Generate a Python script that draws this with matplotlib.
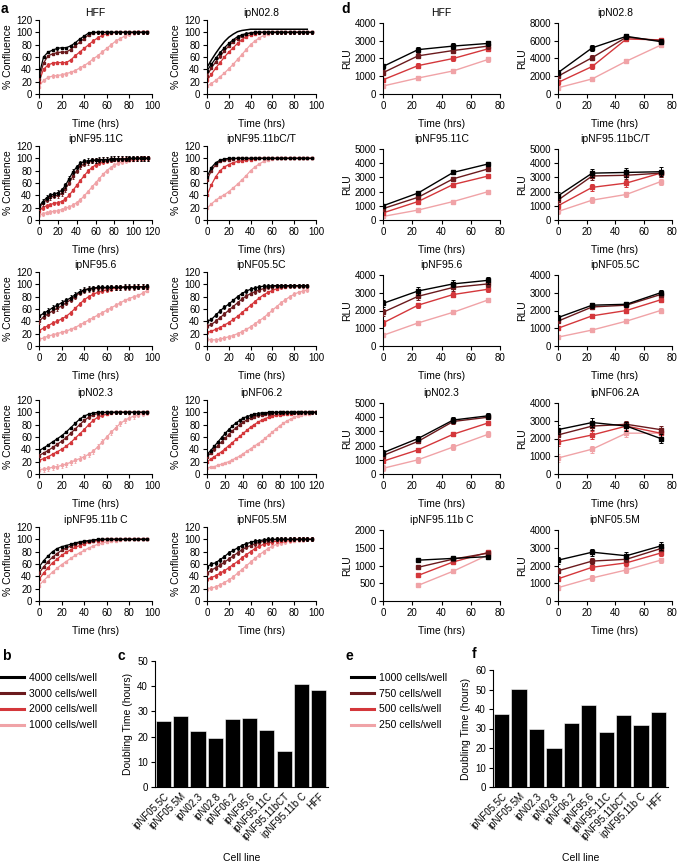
import numpy as np
import matplotlib.pyplot as plt
from matplotlib.lines import Line2D

plt.rcParams['font.family'] = ['Liberation Sans', 'DejaVu Sans']
plt.rcParams['font.size'] = 7
plt.rcParams['axes.linewidth'] = 0.8
plt.rcParams['xtick.major.size'] = 3
plt.rcParams['ytick.major.size'] = 3
plt.rcParams['xtick.major.width'] = 0.8
plt.rcParams['ytick.major.width'] = 0.8

COLORS = ['#000000', '#6b1a1d', '#d4373b', '#f0a3a7']

# ---------------- panel a: % confluence, sampled every 4 h ----------------
CONF_HFF = [
    [30, 60, 68, 71, 74, 75, 75, 78, 83, 89, 94, 99, 100, 100, 100, 100, 100, 100, 100, 100, 100, 100, 100, 100, 100],
    [25, 50, 62, 65, 67, 68, 68, 72, 78, 84, 90, 96, 99, 100, 100, 100, 100, 100, 100, 100, 100, 100, 100, 100, 100],
    [20, 40, 47, 50, 51, 51, 51, 55, 62, 68, 74, 80, 86, 91, 95, 98, 99, 100, 100, 100, 100, 100, 100, 100, 100],
    [12, 22, 27, 29, 30, 31, 33, 35, 38, 42, 46, 51, 57, 62, 68, 74, 80, 86, 90, 94, 97, 99, 100, 100, 100],
]
FIT_N028 = [43, 55, 66, 76, 85, 92, 97, 101, 103, 104, 105, 105, 105, 105, 105, 105, 105, 105, 105, 105, 105, 105, 105, 105]
CONF_N028 = [
    [38, 48, 58, 67, 75, 82, 88, 93, 96, 98, 99, 100, 100, 100, 100, 100, 100, 100, 100, 100, 100, 100, 100, 100, 100],
    [30, 42, 52, 61, 70, 78, 85, 90, 94, 97, 99, 100, 100, 100, 100, 100, 100, 100, 100, 100, 100, 100, 100, 100, 100],
    [22, 32, 42, 51, 60, 68, 75, 82, 88, 93, 96, 98, 99, 100, 100, 100, 100, 100, 100, 100, 100, 100, 100, 100, 100],
    [13, 17, 22, 28, 34, 41, 48, 56, 64, 72, 80, 86, 91, 95, 98, 100, 100, 100, 100, 100, 100, 100, 100, 100, 100],
]
CONF_9511C = [
    [22, 30, 36, 40, 42, 44, 48, 56, 67, 78, 86, 92, 95, 96, 97, 97, 98, 98, 98, 99, 99, 99, 99, 99, 100, 100, 100, 100, 100, 100],
    [20, 27, 33, 37, 39, 40, 43, 50, 60, 71, 80, 87, 91, 94, 96, 97, 97, 98, 98, 98, 99, 99, 99, 99, 99, 100, 100, 100, 100, 100],
    [15, 20, 23, 25, 27, 28, 30, 34, 40, 48, 56, 64, 72, 79, 85, 89, 92, 94, 96, 97, 98, 98, 99, 99, 99, 99, 100, 100, 100, 100],
    [8, 10, 12, 13, 14, 15, 17, 19, 21, 24, 28, 33, 39, 46, 53, 60, 67, 74, 80, 85, 89, 92, 94, 96, 97, 98, 99, 99, 100, 100],
]
CONF_9511BCT = [
    [70, 85, 93, 97, 99, 100, 100, 100, 100, 100, 100, 100, 100, 100, 100, 100, 100, 100, 100, 100, 100, 100, 100, 100, 100],
    [65, 80, 90, 95, 97, 98, 99, 100, 100, 100, 100, 100, 100, 100, 100, 100, 100, 100, 100, 100, 100, 100, 100, 100, 100],
    [40, 57, 70, 80, 86, 90, 93, 95, 96, 97, 98, 99, 100, 100, 100, 100, 100, 100, 100, 100, 100, 100, 100, 100, 100],
    [19, 26, 32, 37, 41, 46, 52, 58, 65, 72, 80, 86, 91, 95, 98, 99, 100, 100, 100, 100, 100, 100, 100, 100, 100],
]
CONF_956 = [
    [48, 53, 57, 62, 66, 70, 74, 78, 83, 88, 91, 93, 94, 95, 95, 95, 95, 95, 95, 96, 96, 96, 96, 96, 97],
    [40, 47, 52, 57, 61, 65, 70, 75, 80, 86, 90, 92, 93, 94, 94, 94, 95, 95, 95, 95, 95, 95, 96, 96, 96],
    [25, 29, 33, 37, 40, 44, 48, 54, 61, 68, 75, 80, 84, 87, 89, 91, 93, 94, 95, 95, 95, 96, 96, 96, 96],
    [11, 13, 16, 18, 20, 22, 24, 27, 30, 34, 38, 42, 46, 50, 54, 58, 62, 66, 70, 74, 77, 80, 82, 86, 90],
]
CONF_055C = [
    [40, 43, 50, 57, 63, 68, 74, 80, 85, 89, 92, 94, 96, 97, 97, 98, 98, 98, 98, 98, 98, 98, 98, 98],
    [32, 35, 40, 46, 52, 58, 64, 70, 76, 81, 85, 88, 91, 93, 95, 96, 97, 97, 97, 97, 97, 97, 97, 97],
    [22, 24, 27, 30, 34, 38, 43, 48, 54, 60, 66, 72, 78, 83, 87, 90, 93, 95, 96, 97, 97, 97, 97, 97],
    [11, 10, 10, 11, 13, 15, 17, 20, 23, 27, 31, 36, 41, 46, 52, 58, 64, 70, 75, 80, 84, 87, 89, 91],
]
CONF_N023 = [
    [38, 42, 47, 52, 57, 62, 68, 75, 82, 89, 94, 97, 99, 100, 100, 100, 100, 100, 100, 100, 100, 100, 100, 100, 100],
    [30, 34, 38, 43, 48, 53, 59, 66, 73, 80, 87, 92, 96, 98, 99, 100, 100, 100, 100, 100, 100, 100, 100, 100, 100],
    [22, 25, 28, 32, 36, 40, 45, 51, 58, 65, 72, 80, 87, 92, 95, 97, 99, 100, 100, 100, 100, 100, 100, 100, 100],
    [7, 8, 9, 11, 12, 14, 16, 19, 22, 25, 28, 32, 37, 44, 52, 60, 68, 75, 82, 87, 91, 94, 96, 98, 99],
]
CONF_062 = [
    [32, 38, 45, 52, 59, 66, 72, 78, 83, 87, 91, 93, 95, 97, 98, 99, 99, 100, 100, 100, 100, 100, 100, 100, 100, 100, 100, 100, 100, 100, 100],
    [28, 34, 40, 46, 52, 58, 64, 70, 75, 80, 84, 88, 91, 93, 95, 96, 97, 98, 99, 99, 100, 100, 100, 100, 100, 100, 100, 100, 100, 100, 100],
    [20, 24, 28, 32, 36, 41, 46, 51, 56, 61, 66, 71, 76, 80, 84, 87, 90, 92, 94, 95, 96, 97, 98, 98, 99, 99, 100, 100, 100, 100, 100],
    [10, 11, 12, 14, 16, 18, 20, 23, 26, 29, 33, 37, 41, 45, 49, 53, 58, 63, 68, 73, 78, 82, 86, 89, 92, 94, 96, 97, 98, 99, 100],
]
CONF_9511BC = [
    [55, 65, 73, 80, 85, 88, 90, 92, 94, 96, 97, 98, 99, 100, 100, 100, 100, 100, 100, 100, 100, 100, 100, 100, 100],
    [45, 55, 64, 71, 77, 82, 86, 89, 92, 94, 96, 97, 98, 99, 100, 100, 100, 100, 100, 100, 100, 100, 100, 100, 100],
    [35, 45, 54, 62, 68, 74, 79, 83, 87, 90, 93, 95, 97, 98, 99, 100, 100, 100, 100, 100, 100, 100, 100, 100, 100],
    [25, 33, 40, 47, 53, 59, 64, 69, 74, 78, 82, 86, 89, 92, 94, 96, 97, 98, 99, 100, 100, 100, 100, 100, 100],
]
CONF_055M = [
    [55, 60, 62, 67, 72, 78, 82, 86, 90, 93, 95, 97, 98, 99, 100, 100, 100, 100, 100, 100, 100, 100, 100, 100, 100],
    [45, 50, 54, 58, 63, 68, 73, 78, 83, 87, 90, 93, 95, 97, 98, 99, 100, 100, 100, 100, 100, 100, 100, 100, 100],
    [35, 38, 41, 45, 49, 54, 59, 64, 70, 75, 80, 85, 89, 92, 94, 96, 97, 98, 99, 99, 100, 100, 100, 100, 100],
    [20, 21, 23, 26, 30, 34, 39, 45, 51, 57, 63, 69, 75, 80, 85, 89, 92, 94, 96, 97, 98, 99, 99, 100, 100],
]
# (title, data, x max of axis, error per series)
CONF_PANELS = [
    ('HFF', CONF_HFF, 100, [2, 2, 2.5, 3]),
    ('ipN02.8', CONF_N028, 100, [2, 2, 2, 2]),
    ('ipNF95.11C', CONF_9511C, 120, [4, 4, 3, 3]),
    ('ipNF95.11bC/T', CONF_9511BCT, 100, [1.5, 1.5, 1.5, 1.5]),
    ('ipNF95.6', CONF_956, 100, [4, 4, 3, 3]),
    ('ipNF05.5C', CONF_055C, 100, [3, 3, 2, 3]),
    ('ipN02.3', CONF_N023, 100, [2, 2, 2, 4]),
    ('ipNF06.2', CONF_062, 120, [2, 2, 1.5, 1.5]),
    ('ipNF95.11b C', CONF_9511BC, 100, [1, 1, 1, 1]),
    ('ipNF05.5M', CONF_055M, 100, [3, 3, 3, 3]),
]

# ---------------- panel d: RLU at 0/24/48/72 h ----------------
RLU_T = [0, 24, 48, 72]
RLU_HFF = [[1550, 2500, 2700, 2850], [1200, 2150, 2450, 2700], [800, 1600, 2000, 2550], [450, 900, 1300, 1950]]
RLU_N028 = [[2400, 5200, 6500, 5900], [2000, 4100, 6400, 6000], [1300, 3100, 6200, 6100], [700, 1700, 3700, 5500]]
RLU_9511C = [[1000, 1900, 3350, 3950], [800, 1600, 2900, 3600], [500, 1300, 2500, 3100], [250, 700, 1300, 2000]]
RLU_9511BCT = [[1700, 3300, 3350, 3400], [1400, 3100, 3150, 3300], [1000, 2300, 2600, 3300], [600, 1400, 1800, 2700]]
RLU_956 = [[2400, 3100, 3500, 3700], [1900, 2800, 3300, 3500], [1300, 2300, 2900, 3200], [600, 1300, 1900, 2600]]
RLU_055C = [[1600, 2300, 2350, 3000], [1400, 2200, 2300, 2900], [1000, 1700, 2000, 2600], [500, 900, 1400, 2000]]
RLU_N023 = [[1500, 2500, 3800, 4100], [1300, 2300, 3700, 4000], [900, 1700, 2800, 3600], [400, 1000, 1900, 2800]]
RLU_062A = [[2500, 2900, 2700, 2000], [2200, 2700, 2800, 2500], [1800, 2200, 2700, 2300], [900, 1400, 2300, 2300]]
RLU_9511BC_T = [24, 48, 72]
RLU_9511BC = [[1150, 1200, 1250], [950, 1180, 1350], [720, 1100, 1370], [440, 840, 1300]]
RLU_055M = [[2300, 2750, 2550, 3100], [1700, 2250, 2350, 2950], [1250, 1900, 2150, 2700], [750, 1300, 1750, 2300]]
# (title, times, data, y max, y step, error per series)
RLU_PANELS = [
    ('HFF', RLU_T, RLU_HFF, 4000, 1000, [150, 150, 120, 120]),
    ('ipN02.8', RLU_T, RLU_N028, 8000, 2000, [300, 250, 250, 200]),
    ('ipNF95.11C', RLU_T, RLU_9511C, 5000, 1000, [80, 80, 80, 80]),
    ('ipNF95.11bC/T', RLU_T, RLU_9511BCT, 5000, 1000, [300, 250, 250, 200]),
    ('ipNF95.6', RLU_T, RLU_956, 4000, 1000, [200, 200, 150, 120]),
    ('ipNF05.5C', RLU_T, RLU_055C, 4000, 1000, [150, 120, 120, 120]),
    ('ipN02.3', RLU_T, RLU_N023, 5000, 1000, [200, 150, 150, 200]),
    ('ipNF06.2A', RLU_T, RLU_062A, 4000, 1000, [250, 200, 200, 200]),
    ('ipNF95.11b C', RLU_9511BC_T, RLU_9511BC, 2000, 500, [20, 20, 20, 20]),
    ('ipNF05.5M', RLU_T, RLU_055M, 4000, 1000, [200, 150, 150, 150]),
]

# ---------------- panels c / f: doubling times ----------------
CELL_LINES = ['ipNF05.5C', 'ipNF05.5M', 'ipN02.3', 'ipN02.8', 'ipNF06.2', 'ipNF95.6',
              'ipNF95.11C', 'ipNF95.11bCT', 'ipNF95.11b C', 'HFF']
DOUBLING_CONF = [26.0, 28.0, 22.3, 19.5, 27.0, 27.2, 22.8, 14.3, 40.8, 38.4]
DOUBLING_RLU = [37.6, 50.2, 29.7, 19.8, 33.0, 42.3, 28.4, 36.7, 32.0, 38.6]

LEGEND_B = ['4000 cells/well', '3000 cells/well', '2000 cells/well', '1000 cells/well']
LEGEND_E = ['1000 cells/well', '750 cells/well', '500 cells/well', '250 cells/well']

W, H = 685, 868
fig = plt.figure(figsize=(W / 100, H / 100), dpi=100)


def box(x0, y0, x1, y1):
    # pixel box (top-left origin) -> figure fraction
    return [x0 / W, 1 - y1 / H, (x1 - x0) / W, (y1 - y0) / H]


def tidy(ax):
    ax.spines['top'].set_visible(False)
    ax.spines['right'].set_visible(False)
    ax.tick_params(labelsize=7, pad=2)


ROW_TOPS = [20, 146, 272, 400, 527]
ROW_H = 74
A_COLS = [(39, 152), (207, 316)]
D_COLS = [(383, 500), (558, 672)]

for i, (title, data, xmax, errs) in enumerate(CONF_PANELS):
    r, c = divmod(i, 2)
    x0, x1 = A_COLS[c]
    ax = fig.add_axes(box(x0, ROW_TOPS[r], x1, ROW_TOPS[r] + ROW_H))
    tidy(ax)
    if title == 'ipN02.8':
        ax.plot(np.arange(len(FIT_N028)) * 4, FIT_N028, color='black', lw=1.1, zorder=5)
    for s, (col, err) in enumerate(zip(COLORS, errs)):
        vals = data[s]
        t = np.arange(len(vals)) * 4
        ax.errorbar(t, vals, yerr=err, color=col, marker='s', ms=1.6, lw=0.9,
                    elinewidth=0.6, capsize=1.0, capthick=0.6, zorder=4 - s)
    ax.set_xlim(0, xmax)
    ax.set_ylim(0, 120)
    ax.set_xticks(np.arange(0, xmax + 1, 20))
    ax.set_yticks(np.arange(0, 121, 20))
    ax.set_title(title, fontsize=7.5, pad=3)
    ax.set_ylabel('% Confluence', fontsize=7.5, labelpad=2)
    ax.set_xlabel('Time (hrs)', fontsize=7.5, labelpad=6)

for i, (title, t, data, ymax, ystep, errs) in enumerate(RLU_PANELS):
    r, c = divmod(i, 2)
    x0, x1 = D_COLS[c]
    ax = fig.add_axes(box(x0, ROW_TOPS[r] + 3, x1, ROW_TOPS[r] + ROW_H))
    tidy(ax)
    for s, (col, err) in enumerate(zip(COLORS, errs)):
        ax.errorbar(t, data[s], yerr=err, color=col, marker='s', ms=2.2, lw=1.0,
                    elinewidth=0.7, capsize=1.5, capthick=0.7, zorder=4 - s)
    ax.set_xlim(0, 80)
    ax.set_ylim(0, ymax)
    ax.set_xticks(np.arange(0, 81, 20))
    ax.set_yticks(np.arange(0, ymax + 1, ystep))
    ax.set_title(title, fontsize=7.5, pad=5)
    ax.set_ylabel('RLU', fontsize=7.5, labelpad=2)
    ax.set_xlabel('Time (hrs)', fontsize=7.5, labelpad=6)


def bar_panel(rect, values, ymax):
    ax = fig.add_axes(rect)
    tidy(ax)
    ax.bar(np.arange(len(values)), values, width=0.88, color='black',
           edgecolor='white', linewidth=0.4)
    ax.set_xlim(-0.5, len(values) - 0.45)
    ax.set_ylim(0, ymax)
    ax.set_yticks(np.arange(0, ymax + 1, 10))
    ax.set_xticks(np.arange(len(values)))
    ax.set_xticklabels(CELL_LINES, rotation=45, ha='right', rotation_mode='anchor', fontsize=7)
    ax.tick_params(axis='x', length=0, pad=3)
    ax.set_ylabel('Doubling Time (hours)', fontsize=7.5, labelpad=3)
    ax.set_xlabel('Cell line', fontsize=7.5, labelpad=8)
    return ax


bar_panel(box(155, 661, 328, 787), DOUBLING_CONF, 50)
bar_panel(box(493, 670, 668, 787), DOUBLING_RLU, 60)

handles = [Line2D([], [], color=c, lw=2.2) for c in COLORS]
fig.legend(handles, LEGEND_B, loc='upper left', bbox_to_anchor=(0 / W, 1 - 672 / H),
           frameon=False, fontsize=7.5, handlelength=2.2, handletextpad=0.5,
           labelspacing=0.55, borderaxespad=0, borderpad=0.1)
fig.legend(handles, LEGEND_E, loc='upper left', bbox_to_anchor=(350 / W, 1 - 672 / H),
           frameon=False, fontsize=7.5, handlelength=2.2, handletextpad=0.5,
           labelspacing=0.55, borderaxespad=0, borderpad=0.1)

for letter, x, y in [('a', 1, 9), ('d', 341, 9), ('b', 2, 656), ('c', 117, 656),
                     ('e', 345, 656), ('f', 472, 654)]:
    fig.text(x / W, 1 - y / H, letter, fontsize=10, fontweight='bold', va='center', ha='left')

fig.savefig('out.png', dpi=100)
